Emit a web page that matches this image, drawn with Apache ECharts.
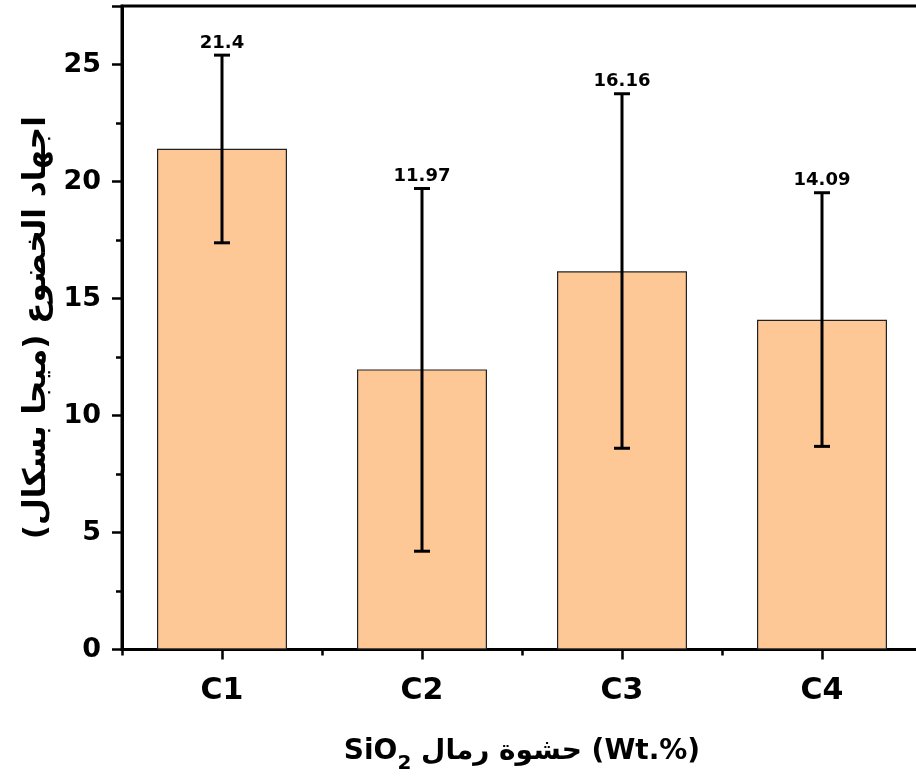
<!DOCTYPE html>
<html>
<head>
<meta charset="utf-8">
<script src="https://cdn.jsdelivr.net/npm/echarts@6/dist/echarts.min.js"></script>
<style>
html,body{margin:0;padding:0;background:#fff;}
#chart{width:916px;height:781px;}
</style>
</head>
<body>
<div id="chart"></div>
<script>
const categories = ['C1', 'C2', 'C3', 'C4'];
const means = [21.4, 11.97, 16.16, 14.09];
const errLow = [17.38, 4.2, 8.6, 8.68];
const errHigh = [25.4, 19.7, 23.75, 19.52];
const yTicks = [0, 5, 10, 15, 20, 25];
const yTitle = 'اجهاد الخضوع (ميجا بسكال)';
const xTitleArabic = ' حشوة رمال (Wt.%)';

const FONT = '"DejaVu Sans", "Liberation Sans", Arial, sans-serif';
const chart = echarts.init(document.getElementById('chart'), null, {renderer: 'canvas'});

const errData = categories.map((c, i) => [i, errLow[i], errHigh[i], means[i]]);

chart.setOption({
  animation: false,
  backgroundColor: '#fff',
  grid: {
    left: 122, width: 800, top: 6, bottom: 131.5,
    outerBoundsMode: 'none',
    containLabel: false,
    show: true, borderColor: '#000', borderWidth: 3, backgroundColor: 'transparent'
  },
  xAxis: [{
    type: 'category',
    data: categories,
    position: 'bottom',
    axisLine: {show: true, lineStyle: {color: '#000', width: 3}},
    axisTick: {show: true, alignWithLabel: true, length: 10, lineStyle: {color: '#000', width: 2.5}},
    axisLabel: {color: '#000', fontSize: 30, fontWeight: 'bold', fontFamily: FONT, margin: 27},
    splitLine: {show: false},
    name: '{a|SiO}{s|2}{a|' + xTitleArabic + '}',
    nameLocation: 'middle',
    nameGap: 82,
    nameTextStyle: {
      color: '#000',
      rich: {
        a: {fontSize: 28, fontWeight: 'bold', fontFamily: FONT, color: '#000', verticalAlign: 'bottom', lineHeight: 34},
        s: {fontSize: 20, fontWeight: 'bold', fontFamily: FONT, color: '#000', verticalAlign: 'bottom', lineHeight: 26, padding: [0, 0, -8, 0]}
      }
    }
  }, {
    type: 'value',
    min: 0, max: 4, interval: 1,
    position: 'bottom',
    axisLine: {show: false},
    axisTick: {show: true, length: 6, lineStyle: {color: '#000', width: 2.5}},
    axisLabel: {show: false},
    splitLine: {show: false}
  }],
  yAxis: {
    type: 'value',
    min: 0, max: 27.5, interval: 5,
    axisLine: {show: true, lineStyle: {color: '#000', width: 3}},
    axisTick: {show: true, length: 10, lineStyle: {color: '#000', width: 2.5}},
    minorTick: {show: true, splitNumber: 2, length: 6, lineStyle: {color: '#000', width: 2.5}},
    axisLabel: {
      color: '#000', fontSize: 27, fontWeight: 'bold', fontFamily: FONT, margin: 21,
      formatter: v => (yTicks.indexOf(v) >= 0 ? String(v) : '')
    },
    splitLine: {show: false},
    name: yTitle,
    nameLocation: 'middle',
    nameGap: 70,
    nameRotate: 90,
    nameTextStyle: {color: '#000', fontSize: 31, fontWeight: 'bold', fontFamily: FONT}
  },
  series: [{
    type: 'bar',
    data: means,
    barWidth: 130,
    xAxisIndex: 0,
    itemStyle: {color: '#FDC796', borderColor: '#222', borderWidth: 1.2},
    z: 2
  }, {
    type: 'custom',
    xAxisIndex: 0,
    data: errData,
    z: 5,
    renderItem: function (params, api) {
      const i = api.value(0);
      const lo = api.coord([i, api.value(1)]);
      const hi = api.coord([i, api.value(2)]);
      const cap = 8;
      return {
        type: 'group',
        children: [
          {type: 'line', shape: {x1: hi[0], y1: hi[1], x2: lo[0], y2: lo[1]}, style: {stroke: '#000', lineWidth: 3}},
          {type: 'line', shape: {x1: hi[0] - cap, y1: hi[1], x2: hi[0] + cap, y2: hi[1]}, style: {stroke: '#000', lineWidth: 3}},
          {type: 'line', shape: {x1: lo[0] - cap, y1: lo[1], x2: lo[0] + cap, y2: lo[1]}, style: {stroke: '#000', lineWidth: 3}},
          {type: 'text', style: {
            text: String(api.value(3)), x: hi[0], y: hi[1] - 3,
            align: 'center', verticalAlign: 'bottom',
            font: 'bold 18px ' + FONT, fill: '#000'
          }}
        ]
      };
    }
  }]
});
</script>
</body>
</html>
